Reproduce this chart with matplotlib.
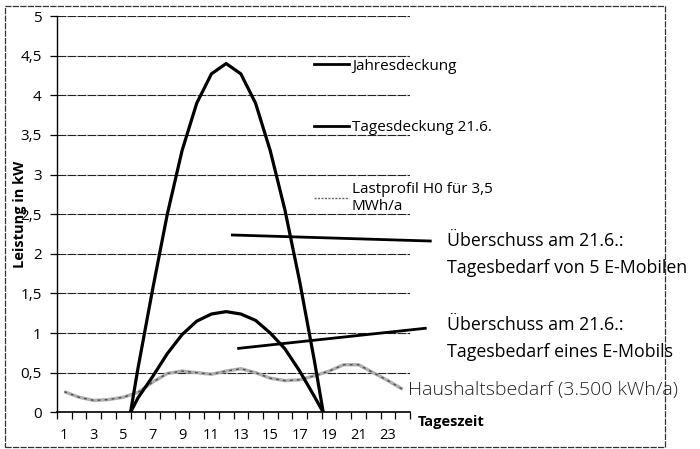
import matplotlib
matplotlib.use("Agg")
import matplotlib.pyplot as plt
from matplotlib.patches import Rectangle
from matplotlib.lines import Line2D

plt.rcParams['font.family'] = ['Open Sans', 'DejaVu Sans']

# ---- data ----
hours = list(range(1, 25))
hour_labels = [str(h) for h in range(1, 25, 2)]

year_x = [5.5, 6, 7, 8, 9, 10, 11, 12, 13, 14, 15, 16, 17, 18, 18.6]
year_y = [0, 0.55, 1.55, 2.5, 3.3, 3.9, 4.27, 4.4, 4.27, 3.9, 3.3, 2.55, 1.65, 0.65, 0]

day_x = [5.5, 6, 7, 8, 9, 10, 11, 12, 13, 14, 15, 16, 17, 18, 18.6]
day_y = [0, 0.18, 0.45, 0.74, 0.98, 1.15, 1.24, 1.27, 1.24, 1.16, 1.0, 0.8, 0.52, 0.2, 0]

load_y = [0.26, 0.19, 0.15, 0.16, 0.19, 0.25, 0.38, 0.49, 0.52, 0.50, 0.48, 0.52,
          0.55, 0.50, 0.43, 0.40, 0.41, 0.46, 0.52, 0.60, 0.60, 0.50, 0.40, 0.29]

y_ticks = [0, 0.5, 1, 1.5, 2, 2.5, 3, 3.5, 4, 4.5, 5]
y_tick_labels = ['0', '0,5', '1', '1,5', '2', '2,5', '3', '3,5', '4', '4,5', '5']

ann1_x = [12.42, 25.88]
ann1_y = [2.237, 2.161]
ann2_x = [12.85, 25.54]
ann2_y = [0.807, 1.06]

W, H = 700, 449
fig = plt.figure(figsize=(7.0, 4.49), dpi=100)
ax = fig.add_axes([57 / W, 1 - 412.3 / H, (410 - 57) / W, (412.3 - 16) / H])

for v in y_ticks[1:]:
    ax.axhline(v, color='#222222', lw=0.8, ls=(0, (8, 1)), zorder=1)

ax.plot(hours, load_y, color='#b0b0b0', lw=2.4, zorder=2, solid_capstyle='butt')
ax.plot(hours, load_y, color='#505050', lw=1.0, ls=(0, (2, 3)), zorder=2)
ln_year, = ax.plot(year_x, year_y, color='black', lw=2.3, zorder=3)
ln_day, = ax.plot(day_x, day_y, color='black', lw=2.3, zorder=3)

ax.set_xlim(0.5, 24.5)
ax.set_ylim(0, 5)
for s in ['top', 'right']:
    ax.spines[s].set_visible(False)
ax.spines['left'].set_color('black')
ax.spines['bottom'].set_color('black')
ax.spines['left'].set_linewidth(1.0)
ax.spines['bottom'].set_linewidth(1.2)

ax.set_xticks([h + 0.5 for h in range(0, 25)])
ax.set_xticklabels([])
ax.tick_params(axis='x', which='major', length=5, direction='out', width=0.9)
ax.set_xticks(list(range(1, 25, 2)), minor=True)
ax.set_xticklabels(hour_labels, minor=True, fontsize=10.5)
ax.tick_params(axis='x', which='minor', length=0, pad=11)

ax.set_yticks(y_ticks)
ax.set_yticklabels(y_tick_labels, fontsize=11)
ax.tick_params(axis='y', length=5, direction='out', width=0.9, pad=6)

fig.text(20 / W, 1 - 214 / H, 'Leistung in kW', rotation=90, fontsize=10.5,
         fontweight='bold', ha='center', va='center')
fig.text(418 / W, 1 - 422 / H, 'Tageszeit', fontsize=10.5, fontweight='bold',
         ha='left', va='center')

# legend
h_load = Line2D([], [], color='#666666', lw=1.0, ls=(0, (1.5, 1)))
leg = ax.legend([ln_year, ln_day, h_load],
                ['Jahresdeckung', 'Tagesdeckung 21.6.', 'Lastprofil H0 für 3,5\nMWh/a'],
                loc='upper left', bbox_to_anchor=(300 / W, 1 - 45 / H),
                bbox_transform=fig.transFigure, frameon=False, fontsize=11,
                handlelength=2.3, handletextpad=0.2, labelspacing=3.05)
for lh in leg.legend_handles[:2]:
    lh.set_linewidth(2.0)

# annotation lines
ax.plot(ann1_x, ann1_y, color='black', lw=2.0, clip_on=False, zorder=4)
ax.plot(ann2_x, ann2_y, color='black', lw=2.0, clip_on=False, zorder=4)

fig.text(447 / W, 1 - 241 / H, 'Überschuss am 21.6.:', fontsize=12.8, va='center', ha='left')
fig.text(447 / W, 1 - 268 / H, 'Tagesbedarf von 5 E-Mobilen', fontsize=12.8, va='center', ha='left')
fig.text(447 / W, 1 - 325 / H, 'Überschuss am 21.6.:', fontsize=12.8, va='center', ha='left')
fig.text(447 / W, 1 - 352 / H, 'Tagesbedarf eines E-Mobils', fontsize=12.8, va='center', ha='left')
fig.text(408 / W, 1 - 390 / H, 'Haushaltsbedarf (3.500 kWh/a)', fontsize=14,
         fontweight='light', color='#222222', va='center', ha='left')

fig.add_artist(Rectangle((5 / W, 1 - 447 / H), (665 - 5) / W, (447 - 6) / H,
                         transform=fig.transFigure, fill=False, ec='#333333',
                         lw=0.9, ls=(0, (5, 1))))

fig.savefig('out.png', dpi=100)
